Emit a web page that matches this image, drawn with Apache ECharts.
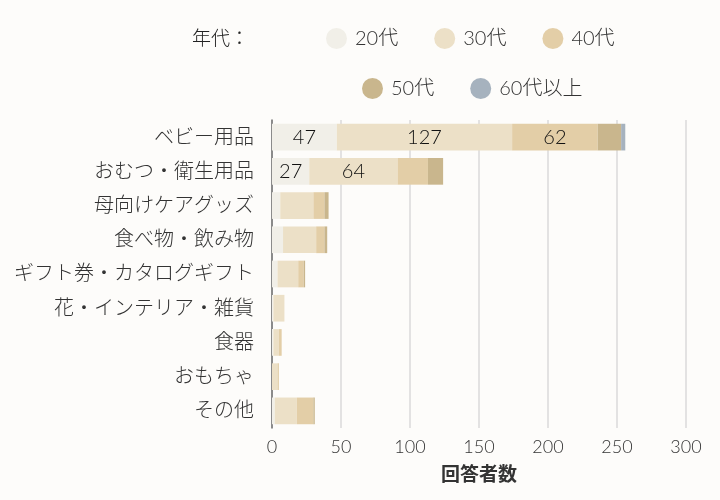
<!DOCTYPE html>
<html>
<head>
<meta charset="utf-8">
<script src="https://cdn.jsdelivr.net/npm/echarts@6/dist/echarts.min.js"></script>
<style>
  html, body { margin: 0; padding: 0; background: #fdfcfa; }
  #chart { width: 720px; height: 500px; }
</style>
</head>
<body>
<div id="chart"></div>
<script>
// 贈り物の種類 × 年代
const categories = ['ベビー用品', 'おむつ・衛生用品', '母向けケアグッズ', '食べ物・飲み物',
  'ギフト券・カタログギフト', '花・インテリア・雑貨', '食器', 'おもちゃ', 'その他']
const ageGroups = ['20代', '30代', '40代', '50代', '60代以上']
const age20 = [47, 27, 6, 8, 4, 1, 1, 0, 2]
const age30 = [127, 64, 24, 24, 15, 8, 4, 4, 16]
const age40 = [62, 22, 8, 6, 4, 0, 2, 1, 12]
const age50 = [17, 11, 3, 2, 1, 0, 0, 0, 1]
const age60 = [3, 0, 0, 0, 0, 0, 0, 0, 0]
const xTicks = [0, 50, 100, 150, 200, 250, 300]

const colors = ['#f1efe8', '#ece0c7', '#e3cea7', '#c9b68d', '#a6b2be']
// light weights first, regular ones as fallback
const font = '"Lato Light", Lato, "Noto Sans CJK JP Light", "Noto Sans CJK JP", sans-serif'
const seriesValues = [age20, age30, age40, age50, age60]

const chart = echarts.init(document.getElementById('chart'))

const legendText = { fontSize: 20, color: '#333', fontFamily: font, fontWeight: 300, padding: [0, 0, 0, 3] }

chart.setOption({
  backgroundColor: '#fdfcfa',
  color: colors,
  title: {
    text: '年代：',
    left: 187, top: 24,
    textStyle: { fontSize: 19, color: '#222', fontFamily: font, fontWeight: 300 }
  },
  legend: [
    {
      data: ageGroups.slice(0, 3),
      left: 321, top: 23,
      icon: 'circle', itemWidth: 21, itemHeight: 21, itemGap: 36,
      textStyle: legendText
    },
    {
      data: ageGroups.slice(3),
      left: 357, top: 73,
      icon: 'circle', itemWidth: 21, itemHeight: 21, itemGap: 36,
      textStyle: legendText
    }
  ],
  grid: { left: 272, right: 34, top: 120, bottom: 72, containLabel: false },
  xAxis: {
    type: 'value',
    min: xTicks[0], max: xTicks[xTicks.length - 1], interval: 50,
    name: '回答者数',
    nameLocation: 'middle', nameGap: 36,
    nameTextStyle: { fontSize: 19, fontWeight: 'bold', color: '#333', fontFamily: '"Noto Sans CJK JP", sans-serif' },
    axisLine: { show: false },
    axisTick: { show: false },
    axisLabel: { fontSize: 18, color: '#333', fontFamily: font, fontWeight: 300, margin: 10 },
    splitLine: { lineStyle: { color: '#dadada', width: 1.5 } }
  },
  yAxis: {
    type: 'category',
    data: categories,
    inverse: true,
    axisLine: { lineStyle: { color: '#6e6e6e', width: 1.5 } },
    axisTick: { show: false },
    axisLabel: { fontSize: 20, color: '#333', fontFamily: font, fontWeight: 300, margin: 18 }
  },
  series: ageGroups.map((name, i) => ({
    name,
    type: 'bar',
    stack: 'total',
    barCategoryGap: '22%',
    data: seriesValues[i],
    label: {
      show: true,
      position: 'inside',
      fontSize: 20,
      color: '#111',
      fontFamily: font,
      fontWeight: 300,
      formatter: p => (p.value >= 25 ? p.value : '')
    }
  }))
})
</script>
</body>
</html>
